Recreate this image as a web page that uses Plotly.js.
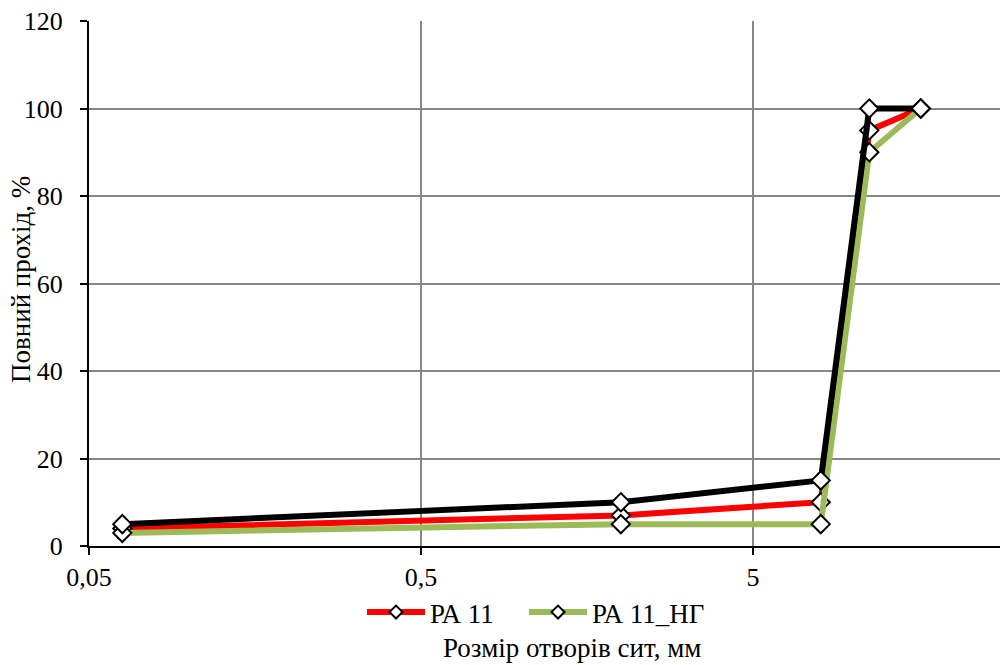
<!DOCTYPE html>
<html>
<head>
<meta charset="utf-8">
<script src="https://cdn.plot.ly/plotly-3.0.1.min.js"></script>
<style>html,body{margin:0;padding:0;background:#fff;}#chart{width:1001px;height:665px;}</style>
</head>
<body>
<div id="chart"></div>
<script>
const sieveSizes = [0.063, 2, 8, 11.2, 16];
const pa11 = [4, 7, 10, 95, 100];
const pa11ng = [3, 5, 5, 90, 100];
const upperLimit = [5, 10, 15, 100, 100];
const xTickVals = [0.05, 0.5, 5, 50];
const xTickText = ['0,05', '0,5', '5', '50'];
const seriesNames = ['РА 11', 'РА 11_НГ', 'Межа'];
const xTitle = 'Розмір отворів сит, мм';
const yTitle = 'Повний прохід, %';

const fam = '"Liberation Serif", "Times New Roman", serif';
const tickFont = {family: fam, size: 26, color: '#000'};
const textFont = {family: fam, size: 27, color: '#000'};
const mk = {symbol: 'diamond', size: 14, color: '#fff', line: {color: '#000', width: 2}};
const mkLegend = {symbol: 'diamond', size: 10, color: '#fff', line: {color: '#000', width: 2}};
const colors = ['#ff0000', '#9bbb59', '#000000'];

const traces = [
  {x: sieveSizes, y: pa11, name: seriesNames[0], mode: 'lines+markers', line: {color: colors[0], width: 6}, marker: mk, showlegend: false},
  {x: sieveSizes, y: pa11ng, name: seriesNames[1], mode: 'lines+markers', line: {color: colors[1], width: 6}, marker: mk, showlegend: false},
  {x: sieveSizes, y: upperLimit, name: seriesNames[2], mode: 'lines+markers', line: {color: colors[2], width: 6}, marker: mk, showlegend: false},
  {x: [null], y: [null], name: seriesNames[0], mode: 'lines+markers', line: {color: colors[0], width: 6}, marker: mkLegend, showlegend: true, legend: 'legend'},
  {x: [null], y: [null], name: seriesNames[1], mode: 'lines+markers', line: {color: colors[1], width: 6}, marker: mkLegend, showlegend: true, legend: 'legend2'}
];

const legendBase = {orientation: 'h', xanchor: 'left', y: -0.08, yanchor: 'top', font: textFont, itemwidth: 58, bgcolor: 'rgba(0,0,0,0)'};

const layout = {
  width: 1001, height: 665,
  margin: {l: 89, r: 1, t: 21, b: 119},
  paper_bgcolor: '#fff', plot_bgcolor: '#fff',
  font: textFont,
  showlegend: true,
  legend: Object.assign({}, legendBase, {x: (367 - 89 - 5) / 911}),
  legend2: Object.assign({}, legendBase, {x: (530 - 89 - 6) / 911}),
  xaxis: {
    type: 'log',
    range: [Math.log10(0.05), Math.log10(0.05) + 911 / 332],
    tickvals: xTickVals, ticktext: xTickText,
    showgrid: true, gridcolor: '#868686', gridwidth: 2,
    showline: true, linecolor: '#000', linewidth: 2,
    ticks: 'outside', ticklen: 7, tickcolor: '#000', tickwidth: 2,
    zeroline: false,
    tickfont: tickFont,
    automargin: false
  },
  yaxis: {
    range: [0, 120],
    tickvals: [0, 20, 40, 60, 80, 100, 120],
    showgrid: true, gridcolor: '#868686', gridwidth: 2,
    showline: true, linecolor: '#000', linewidth: 2,
    ticks: 'outside', ticklen: 7, tickcolor: '#000', tickwidth: 2,
    zeroline: false,
    tickfont: tickFont,
    ticklabelstandoff: 12,
    automargin: false
  },
  annotations: [
    {text: xTitle, xref: 'paper', yref: 'paper', x: (572 - 89) / 911, y: (546 - 648) / 525, xanchor: 'center', yanchor: 'middle', showarrow: false, font: textFont},
    {text: yTitle, xref: 'paper', yref: 'paper', x: (21 - 89) / 911, y: (546 - 280) / 525, xanchor: 'center', yanchor: 'middle', showarrow: false, textangle: -90, font: textFont}
  ]
};

Plotly.newPlot('chart', traces, layout, {displayModeBar: false, staticPlot: true});
</script>
</body>
</html>
